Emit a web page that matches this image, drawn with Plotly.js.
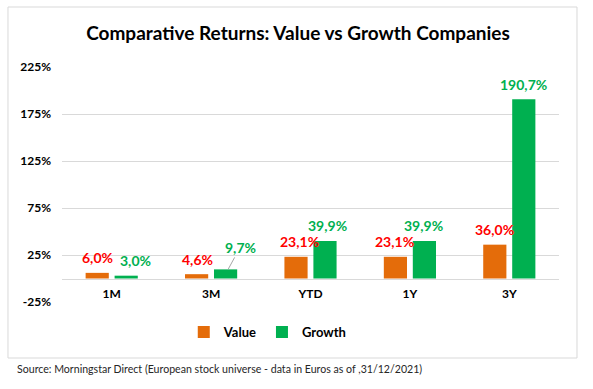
<!DOCTYPE html>
<html>
<head>
<meta charset="utf-8">
<script src="https://cdn.plot.ly/plotly-3.0.1.min.js"></script>
<style>html,body{margin:0;padding:0;background:#fff;}#chart{width:593px;height:389px;}</style>
</head>
<body>
<div id="chart"></div>
<script>
// ---- data ----
const categories = ["1M", "3M", "YTD", "1Y", "3Y"];
const valueReturns = [6.0, 4.6, 23.1, 23.1, 36.0];
const growthReturns = [3.0, 9.7, 39.9, 39.9, 190.7];
const valueLabels = ["6,0%", "4,6%", "23,1%", "23,1%", "36,0%"];
const growthLabels = ["3,0%", "9,7%", "39,9%", "39,9%", "190,7%"];
const seriesNames = ["Value", "Growth"];
const yTickVals = [-25, 25, 75, 125, 175, 225];
const yTickText = ["-25%", "25%", "75%", "125%", "175%", "225%"];
const titleText = "Comparative Returns: Value vs Growth Companies";
const sourceText = "Source: Morningstar Direct (European stock universe - data in Euros as of ,31/12/2021)";

// ---- styles ----
const FONT = "Lato, 'Open Sans', sans-serif";
const valueColor = "#E46C0A";
const growthColor = "#00B050";
const valueLabelColor = "#FF0000";
const growthLabelColor = "#00B050";
const gridColor = "#D9D9D9";

const traces = [
  {type: "bar", name: seriesNames[0], x: categories, y: valueReturns,
   marker: {color: valueColor}, hoverinfo: "skip"},
  {type: "bar", name: seriesNames[1], x: categories, y: growthReturns,
   marker: {color: growthColor}, hoverinfo: "skip"}
];

const halfBar = 14.5;
const valueExtraX = [0, 1, 3, -1, 0];
const growthExtraX = [9, 0, 2, -1, 0];
const annotations = [];
categories.forEach((c, i) => {
  annotations.push({x: c, y: valueReturns[i], xref: "x", yref: "y", text: valueLabels[i],
    showarrow: false, xshift: -halfBar + valueExtraX[i], yshift: 15, yanchor: "middle",
    font: {family: FONT, size: 14, color: valueLabelColor, weight: "bold"}});
  if (i === 1) {
    annotations.push({x: c, y: growthReturns[i], xref: "x", yref: "y", text: growthLabels[i],
      showarrow: true, arrowhead: 0, arrowwidth: 1, arrowcolor: "#A6A6A6", standoff: 0,
      xshift: 17, ax: 12, ay: -22,
      font: {family: FONT, size: 14, color: growthLabelColor, weight: "bold"}});
  } else {
    annotations.push({x: c, y: growthReturns[i], xref: "x", yref: "y", text: growthLabels[i],
      showarrow: false, xshift: halfBar + growthExtraX[i], yshift: 15, yanchor: "middle",
      font: {family: FONT, size: 14, color: growthLabelColor, weight: "bold"}});
  }
});
annotations.push({xref: "paper", yref: "paper", x: -0.0946, y: -0.285, xanchor: "left", yanchor: "middle",
  text: sourceText, showarrow: false, font: {family: FONT, size: 10.6, color: "#262626"}});

const layout = {
  width: 593, height: 389,
  margin: {l: 62, r: 34, t: 67, b: 87},
  paper_bgcolor: "#fff", plot_bgcolor: "rgba(0,0,0,0)",
  font: {family: FONT, color: "#262626"},
  title: {text: titleText, xref: "container", x: 298/593, xanchor: "center", y: 1 - 33/389, yanchor: "middle",
    font: {family: FONT, size: 19, color: "#000", weight: "bold"}},
  barmode: "group", bargap: 0.417, bargroupgap: 0.2,
  showlegend: true,
  legend: {orientation: "h", x: 0.245, xanchor: "left", y: -0.128, yanchor: "middle",
    font: {family: FONT, size: 13, color: "#000", weight: "bold"}, itemwidth: 30},
  xaxis: {type: "category", anchor: "free", position: 0.1, showline: true, linecolor: gridColor, linewidth: 1,
    showgrid: false, ticks: "", zeroline: false, fixedrange: true, ticklabelstandoff: 4,
    tickfont: {family: FONT, size: 12, color: "#000", weight: "bold"}},
  yaxis: {range: [-25, 225], tickvals: yTickVals, ticktext: yTickText, showgrid: true, gridcolor: gridColor,
    gridwidth: 1, zeroline: false, showline: false, ticks: "", fixedrange: true, ticklabelstandoff: 10,
    tickfont: {family: FONT, size: 12, color: "#000", weight: "bold"}},
  annotations: annotations,
  shapes: [{type: "rect", xref: "paper", yref: "paper", x0: -0.1087, x1: 1.0362, y0: -0.2383, y1: 1.2553,
    line: {color: gridColor, width: 1}, fillcolor: "rgba(0,0,0,0)", layer: "below"}]
};

Plotly.newPlot("chart", traces, layout, {displayModeBar: false, staticPlot: true});
</script>
</body>
</html>
